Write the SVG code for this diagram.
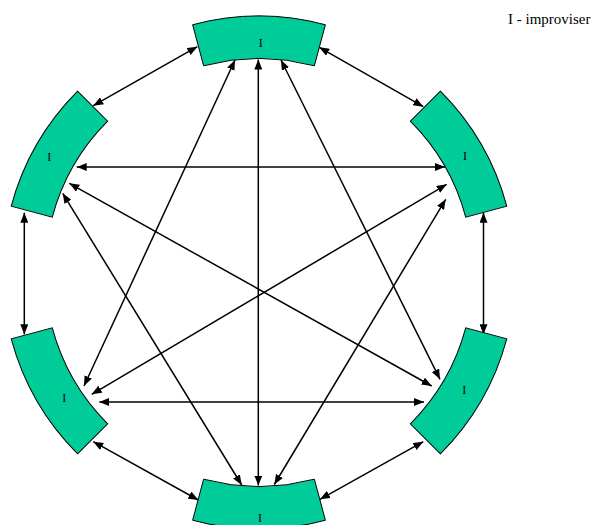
<svg xmlns="http://www.w3.org/2000/svg" width="596" height="525" viewBox="0 0 596 525">
<style>
.node{fill:#00CC99;stroke:#000;stroke-width:1}
.lbl{font-family:"Liberation Serif","Times New Roman",serif;font-size:12px;fill:#000;text-anchor:middle}
.legend{font-family:"Liberation Serif","Times New Roman",serif;font-size:15px;fill:#000}
.conn line{stroke:#000;stroke-width:1.5;marker-start:url(#ah);marker-end:url(#ah)}
</style>
<defs>
<marker id="ah" viewBox="0 0 10 8" markerUnits="userSpaceOnUse" markerWidth="10" markerHeight="8" refX="10" refY="4" orient="auto-start-reverse">
<path d="M0,0 L10,4 L0,8 Z" fill="#000"/>
</marker>
<path id="sector" d="M 192.61 24.74 A 256.5 256.5 0 0 1 325.39 24.74 L 314.39 65.79 A 214 214 0 0 0 203.61 65.79 Z"/>
</defs>
<rect width="596" height="525" fill="#fff"/>
<g id="connectors" class="conn">
<line x1="319.3" y1="47.3" x2="423.3" y2="106.7"/>
<line x1="197.3" y1="46.7" x2="93.3" y2="105.7"/>
<line x1="483.5" y1="212.7" x2="483.5" y2="334.3"/>
<line x1="24.3" y1="212.7" x2="24.3" y2="334.3"/>
<line x1="423.3" y1="441.7" x2="320" y2="499.3"/>
<line x1="93.3" y1="441.7" x2="198.3" y2="500"/>
<line x1="445" y1="167" x2="76.7" y2="167"/>
<line x1="424" y1="402" x2="99.3" y2="402"/>
<line x1="258.3" y1="59.5" x2="258.3" y2="485.5"/>
<line x1="235" y1="60" x2="84" y2="386"/>
<line x1="281" y1="60" x2="440" y2="379.3"/>
<line x1="446.7" y1="184.3" x2="91.7" y2="394.3"/>
<line x1="445.7" y1="199.3" x2="274.3" y2="484.5"/>
<line x1="69.3" y1="183.3" x2="431.7" y2="386"/>
<line x1="62.7" y1="193.3" x2="241.7" y2="485"/>
</g>
<g id="node-top"><use href="#sector" class="node"/><text class="lbl" x="260.7" y="46.5">I</text></g>
<g id="node-right-upper"><use href="#sector" class="node" transform="rotate(60 259 272.5)"/><text class="lbl" x="465" y="160">I</text></g>
<g id="node-right-lower"><use href="#sector" class="node" transform="rotate(120 259 272.5)"/><text class="lbl" x="464.3" y="394">I</text></g>
<g id="node-bottom"><use href="#sector" class="node" transform="rotate(180 259 272.5)"/><text class="lbl" x="260" y="521.5">I</text></g>
<g id="node-left-lower"><use href="#sector" class="node" transform="rotate(240 259 272.5)"/><text class="lbl" x="64.3" y="402">I</text></g>
<g id="node-left-upper"><use href="#sector" class="node" transform="rotate(300 259 272.5)"/><text class="lbl" x="49.3" y="160.7">I</text></g>
<g id="legend"><text class="legend" x="508" y="24">I - improviser</text></g>
</svg>
